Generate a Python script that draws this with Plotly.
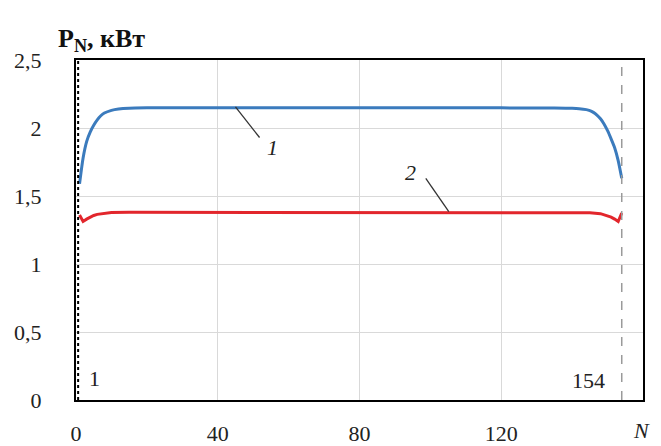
import plotly.graph_objects as go

# ---- data ----
n_curve1 = [1, 2, 3, 4, 5, 6, 7, 8, 10, 12, 15, 20, 40, 60, 80, 100, 120, 135, 140,
            142, 144, 145, 146, 147, 148, 149, 150, 151, 152, 153, 154]
p_curve1 = [1.59, 1.78, 1.90, 1.97, 2.02, 2.06, 2.09, 2.11, 2.13, 2.14, 2.146, 2.148, 2.148,
            2.148, 2.148, 2.148, 2.148, 2.147, 2.145, 2.142, 2.135, 2.128, 2.115, 2.095,
            2.068, 2.03, 1.98, 1.92, 1.855, 1.76, 1.63]

n_curve2 = [1, 2, 3, 4, 5, 6, 8, 10, 15, 20, 40, 60, 80, 100, 120, 140, 145, 148, 150,
            151, 152, 153, 154]
p_curve2 = [1.36, 1.313, 1.33, 1.345, 1.357, 1.365, 1.374, 1.378, 1.38, 1.38, 1.38, 1.38,
            1.38, 1.38, 1.38, 1.38, 1.377, 1.37, 1.355, 1.345, 1.33, 1.312, 1.375]

x_ticks = [0, 40, 80, 120]
y_ticks = [0, 0.5, 1, 1.5, 2, 2.5]
y_tick_labels = ["0", "0,5", "1", "1,5", "2", "2,5"]
n_first, n_last = 1, 154

serif = "Liberation Serif, Times New Roman, serif"
tick_font = dict(family=serif, size=22, color="#222222")

fig = go.Figure()
fig.add_trace(go.Scatter(x=n_curve1, y=p_curve1, mode="lines",
                         line=dict(color="#3b7bbd", width=3, shape="spline", smoothing=0.6),
                         hoverinfo="skip", showlegend=False))
fig.add_trace(go.Scatter(x=n_curve2, y=p_curve2, mode="lines",
                         line=dict(color="#e2262c", width=3),
                         hoverinfo="skip", showlegend=False))

# vertical dashed boundary lines
fig.add_shape(type="line", x0=n_last, x1=n_last, y0=0, y1=2.5, xref="x", yref="y",
              line=dict(color="#9a9a9a", width=1.5, dash="dash"))
fig.add_shape(type="line", x0=0.6, x1=0.6, y0=0, y1=2.5, xref="x", yref="y",
              line=dict(color="black", width=2, dash="dot"))

# leader lines for curve labels
fig.add_shape(type="line", x0=45, y0=2.155, x1=51.8, y1=1.93, xref="x", yref="y",
              line=dict(color="#333333", width=1.3))
fig.add_shape(type="line", x0=98.7, y0=1.63, x1=105.2, y1=1.385, xref="x", yref="y",
              line=dict(color="#333333", width=1.3))

ann_font = dict(family=serif, size=22, color="#222222")
fig.add_annotation(x=55.5, y=1.86, text="<i>1</i>", showarrow=False, font=ann_font)
fig.add_annotation(x=94.3, y=1.67, text="<i>2</i>", showarrow=False, font=ann_font)
fig.add_annotation(x=5.2, y=0.16, text=str(n_first), showarrow=False, font=ann_font)
fig.add_annotation(x=144.5, y=0.14, text=str(n_last), showarrow=False, font=ann_font)

# axis titles
fig.add_annotation(xref="paper", yref="paper", x=-0.035, y=1.113, xanchor="left",
                   text="<b>P<sub>N</sub>, кВт</b>", showarrow=False,
                   font=dict(family=serif, size=26, color="#111111"))
fig.add_annotation(xref="paper", yref="paper", x=0.998, y=-0.09, xanchor="center",
                   yanchor="middle", text="<i>N</i>", showarrow=False,
                   font=dict(family=serif, size=22, color="#222222"))

fig.update_layout(
    width=661, height=446,
    margin=dict(l=76, r=18, t=60, b=46),
    paper_bgcolor="white", plot_bgcolor="white",
    font=dict(family=serif, size=22, color="#222222"),
    xaxis=dict(range=[0, 160], tickvals=x_ticks, showgrid=True, gridcolor="#d9d9d9",
               gridwidth=1, zeroline=False, showline=True, linecolor="black",
               linewidth=2, mirror=True, ticks="", ticklabelstandoff=13,
               tickfont=tick_font, automargin=False),
    yaxis=dict(range=[0, 2.5], tickvals=y_ticks, ticktext=y_tick_labels, showgrid=True,
               gridcolor="#d9d9d9", gridwidth=1, zeroline=False, showline=True,
               linecolor="black", linewidth=2, mirror=True, ticks="",
               ticklabelstandoff=28, tickfont=tick_font, automargin=False),
)

fig.write_html("out.html")
